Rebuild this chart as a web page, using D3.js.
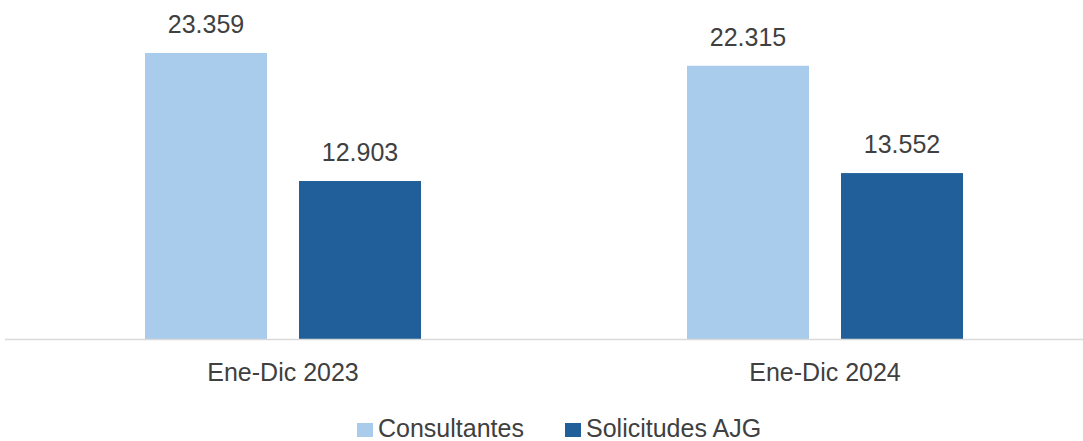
<!DOCTYPE html>
<meta charset="utf-8">
<style>
body {
  margin: 0;
  padding: 0;
  background: #fff;
  font-family: "Liberation Sans", Arial, sans-serif;
}
svg text {
  fill: #404040;
}
</style>
<body>
<div id="chart"></div>
<script src="https://d3js.org/d3.v7.min.js"></script>
<script>

var categories = ['Ene-Dic 2023', 'Ene-Dic 2024'];
var seriesNames = ['Consultantes', 'Solicitudes AJG'];
var consultantes = [23359, 22315];
var solicitudes = [12903, 13552];
var colors = ['#a9cbec', '#215f9a'];

var width = 1083, height = 441;
var baseline = 339;

var svg = d3.select('#chart').append('svg')
  .attr('width', width)
  .attr('height', height);

var x0 = d3.scaleBand()
  .domain(categories)
  .range([12, 1096])
  .padding(0);

var x1 = d3.scaleBand()
  .domain(seriesNames)
  .range([0, 276])
  .paddingInner(32 / 154);

var y = d3.scaleLinear()
  .domain([0, 25000])
  .range([baseline, baseline - 25000 * 286 / 23359]);

var rows = categories.map(function (c, i) {
  return {
    cat: c,
    values: [
      { key: seriesNames[0], value: consultantes[i], color: colors[0] },
      { key: seriesNames[1], value: solicitudes[i], color: colors[1] }
    ]
  };
});

var fmt = function (v) {
  return d3.format(',')(v).replace(/,/g, '.');
};

var groups = svg.selectAll('.group')
  .data(rows)
  .enter().append('g')
    .attr('class', 'group')
    .attr('transform', function (d) {
      return 'translate(' + (x0(d.cat) + x0.bandwidth() / 2 - 138) + ',0)';
    });

groups.selectAll('rect')
  .data(function (d) { return d.values; })
  .enter().append('rect')
    .attr('x', function (d) { return x1(d.key); })
    .attr('y', function (d) { return y(d.value); })
    .attr('width', x1.bandwidth())
    .attr('height', function (d) { return baseline - y(d.value); })
    .attr('fill', function (d) { return d.color; });

groups.selectAll('.val')
  .data(function (d) { return d.values; })
  .enter().append('text')
    .attr('class', 'val')
    .attr('x', function (d) { return x1(d.key) + x1.bandwidth() / 2; })
    .attr('y', function (d) { return y(d.value) - 20; })
    .attr('text-anchor', 'middle')
    .style('font-size', '25px')
    .text(function (d) { return fmt(d.value); });

// axis
var axis = svg.append('g')
  .attr('transform', 'translate(0,' + baseline + ')')
  .call(d3.axisBottom(x0).tickSize(0).tickPadding(42));
axis.select('.domain')
  .attr('d', 'M5,0.5H1083')
  .attr('stroke', '#d9d9d9')
  .attr('stroke-width', 1.5);
axis.selectAll('text')
  .attr('dy', null)
  .style('font-size', '25px')
  .style('font-family', '"Liberation Sans", Arial, sans-serif')
  .attr('fill', '#404040');

// legend
var legend = svg.append('g');
var legendX = [357, 565];
seriesNames.forEach(function (name, i) {
  var g = legend.append('g').attr('transform', 'translate(' + legendX[i] + ',423)');
  g.append('rect')
    .attr('width', 16)
    .attr('height', 14)
    .attr('fill', colors[i]);
  g.append('text')
    .attr('x', 21)
    .attr('y', 14)
    .style('font-size', '25px')
    .text(name);
});

</script>
</body>
